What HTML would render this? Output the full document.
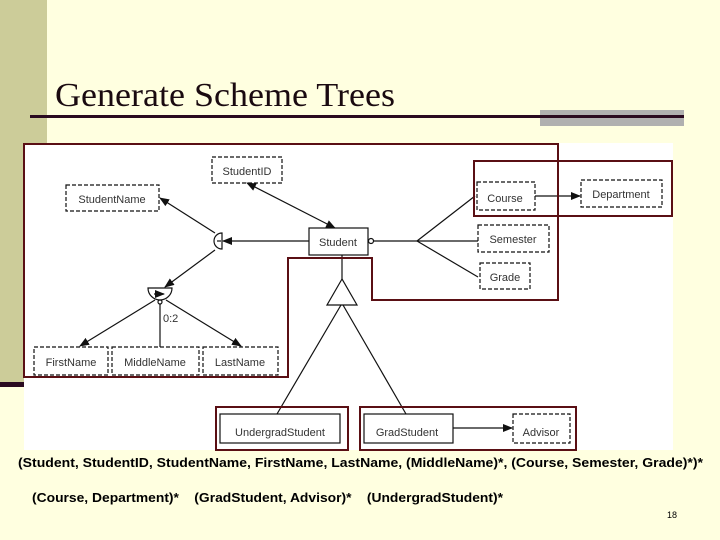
<!DOCTYPE html>
<html><head><style>
body{margin:0;width:720px;height:540px;overflow:hidden;background:#ffffe0;position:relative;font-family:"Liberation Sans",sans-serif}
</style></head><body>
<svg width="720" height="540" style="position:absolute;left:0;top:0" font-family="Liberation Sans, sans-serif">
<defs><marker id="a" markerWidth="10" markerHeight="8" refX="9" refY="4" orient="auto" markerUnits="userSpaceOnUse"><path d="M0,0 L10,4 L0,8z" fill="#111"/></marker>
<marker id="b" markerWidth="10" markerHeight="8" refX="1" refY="4" orient="auto" markerUnits="userSpaceOnUse"><path d="M10,0 L0,4 L10,8z" fill="#111"/></marker></defs>
<rect x="0" y="0" width="47" height="385" fill="#cccc99"/>
<rect x="0" y="382" width="26" height="5" fill="#2a0a20"/>
<rect x="540" y="110" width="144" height="16" fill="#b0b0b0"/>
<rect x="30" y="115" width="654" height="3" fill="#2a0a20"/>
<text x="55" y="106" font-family="Liberation Serif, serif" font-size="34" fill="#1a0a10" textLength="340" lengthAdjust="spacingAndGlyphs">Generate Scheme Trees</text>
<rect x="24" y="143" width="649" height="307" fill="#fff"/>
<g stroke="#111" stroke-width="1.2" fill="none">
<g stroke-dasharray="4,2" fill="#fff">
<rect x="212" y="157" width="70" height="26"/>
<rect x="66" y="185" width="93" height="26"/>
<rect x="477" y="182" width="58" height="28"/>
<rect x="581" y="180" width="81" height="27"/>
<rect x="478" y="225" width="71" height="27"/>
<rect x="480" y="263" width="50" height="26"/>
<rect x="513" y="414" width="57" height="29"/>
<rect x="34" y="347" width="74" height="28"/>
<rect x="112" y="347" width="87" height="28"/>
<rect x="203" y="347" width="75" height="28"/>
</g>
<rect x="309" y="228" width="59" height="27" fill="#fff"/>
<rect x="220" y="414" width="120" height="29" fill="#fff"/>
<rect x="364" y="414" width="89" height="29" fill="#fff"/>
<line x1="247" y1="183" x2="335" y2="228" marker-start="url(#b)" marker-end="url(#a)"/>
<line x1="309" y1="241" x2="223" y2="241" marker-end="url(#a)"/>
<path d="M222,233 A8,8 0 0 0 222,249 Z" fill="#fff"/>
<line x1="217" y1="241" x2="221" y2="241"/>
<line x1="215" y1="233" x2="160" y2="198" marker-end="url(#a)"/>
<line x1="215" y1="250" x2="165" y2="287" marker-end="url(#a)"/>
<path d="M148,288 L172,288 A12,12 0 0 1 148,288 Z" fill="#fff"/>
<line x1="154" y1="294" x2="164" y2="294" marker-end="url(#a)"/>
<circle cx="160" cy="302" r="2" fill="#fff"/>
<line x1="155" y1="300" x2="80" y2="346" marker-end="url(#a)"/>
<line x1="160" y1="304" x2="160" y2="347"/>
<line x1="166" y1="300" x2="241" y2="346" marker-end="url(#a)"/>
<circle cx="371" cy="241" r="2.5" fill="#fff"/>
<line x1="374" y1="241" x2="478" y2="241"/>
<line x1="417" y1="241" x2="475" y2="196"/>
<line x1="417" y1="241" x2="478" y2="277"/>
<line x1="535" y1="196" x2="580" y2="196" marker-end="url(#a)"/>
<line x1="342" y1="255" x2="342" y2="279"/>
<path d="M342,279 L327,305 L357,305 Z" fill="#fff"/>
<line x1="341" y1="305" x2="277" y2="414"/>
<line x1="343" y1="305" x2="406" y2="414"/>
<line x1="453" y1="428" x2="512" y2="428" marker-end="url(#a)"/>
</g>
<g font-size="11" fill="#333">
<text x="247" y="175" text-anchor="middle">StudentID</text>
<text x="112" y="203" text-anchor="middle">StudentName</text>
<text x="338" y="246" text-anchor="middle">Student</text>
<text x="505" y="202" text-anchor="middle">Course</text>
<text x="621" y="198" text-anchor="middle">Department</text>
<text x="513" y="243" text-anchor="middle">Semester</text>
<text x="505" y="281" text-anchor="middle">Grade</text>
<text x="71" y="366" text-anchor="middle">FirstName</text>
<text x="155" y="366" text-anchor="middle">MiddleName</text>
<text x="240" y="366" text-anchor="middle">LastName</text>
<text x="163" y="322">0:2</text>
<text x="280" y="436" text-anchor="middle">UndergradStudent</text>
<text x="407" y="436" text-anchor="middle">GradStudent</text>
<text x="541" y="436" text-anchor="middle">Advisor</text>
</g>
<g stroke="#5a0f14" stroke-width="2" fill="none">
<path d="M24,144 L558,144 L558,300 L372,300 L372,258 L288,258 L288,377 L24,377 Z"/>
<rect x="474" y="161" width="198" height="55"/>
<rect x="216" y="407" width="132" height="43"/>
<rect x="360" y="407" width="216" height="43"/>
</g>
<text x="18" y="467" font-size="12.5" font-weight="bold" fill="#000" textLength="685" lengthAdjust="spacingAndGlyphs">(Student, StudentID, StudentName, FirstName, LastName, (MiddleName)*, (Course, Semester, Grade)*)*</text>
<text x="32" y="502" font-size="12.5" font-weight="bold" fill="#000" xml:space="preserve" textLength="471" lengthAdjust="spacingAndGlyphs">(Course, Department)*    (GradStudent, Advisor)*    (UndergradStudent)*</text>
<text x="667" y="518" font-size="9" fill="#000">18</text>
</svg>
</body></html>
